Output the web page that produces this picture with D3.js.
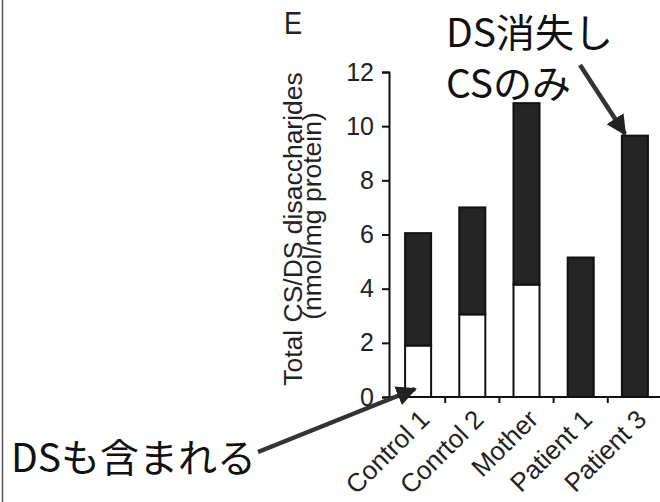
<!DOCTYPE html>
<html lang="ja">
<head>
<meta charset="UTF-8">
<title>Total CS/DS disaccharides</title>
<script src="https://d3js.org/d3.v7.min.js"></script>
<style>
    body { margin: 0; background: #fff; }
    svg { display: block; }
    .tick text { font-family: "Liberation Sans", Arial, sans-serif; }
</style>
</head>
<body>
<script>
    // data
    const categories = ["Control 1", "Conrtol 2", "Mother", "Patient 1", "Patient 3"];
    const dsValues = [1.9, 3.05, 4.15, 0, 0];      // white (lower) part
    const csValues = [4.15, 3.95, 6.7, 5.15, 9.65]; // dark (upper) part
    const yTicks = [0, 2, 4, 6, 8, 10, 12];
    const panelLabel = "E";
    const noteTop = ["DS消失し", "CSのみ"];
    const noteBottom = "DSも含まれる";

    let width = 660, height = 502;
    let sans = "Liberation Sans, Arial, sans-serif";

    let svg = d3.select("body").append("svg")
        .attr("width", width)
        .attr("height", height);

    let rows = categories.map((c, i) => ({ name: c, ds: dsValues[i], cs: csValues[i] }));
    let series = d3.stack().keys(["ds", "cs"])(rows);

    let x = d3.scaleBand().domain(categories).range([391, 662])
        .paddingInner(0.52).paddingOuter(0.26);
    let y = d3.scaleLinear().domain([0, 12]).range([397, 72]);

    let fill = { ds: "#fff", cs: "#252525" };

    // left border line of the scan
    svg.append("line")
        .attr("x1", 2.5).attr("x2", 2.5).attr("y1", 0).attr("y2", height)
        .attr("stroke", "#555").attr("stroke-width", 1.5);

    // bars
    svg.selectAll("g.layer")
        .data(series)
        .enter().append("g")
        .attr("class", "layer")
        .attr("fill", d => fill[d.key])
        .selectAll("rect")
        .data(d => d.filter(p => p[1] > p[0]))
        .enter().append("rect")
        .attr("x", d => x(d.data.name))
        .attr("y", d => y(d[1]))
        .attr("width", x.bandwidth())
        .attr("height", d => y(d[0]) - y(d[1]))
        .attr("stroke", "#111")
        .attr("stroke-width", 2);

    // y axis
    let yAxis = svg.append("g")
        .attr("transform", "translate(389,0)")
        .call(d3.axisLeft(y).tickValues(yTicks).tickSize(7).tickPadding(8));
    yAxis.select(".domain").attr("stroke", "#111").attr("stroke-width", 2);
    yAxis.selectAll(".tick line").attr("stroke", "#111").attr("stroke-width", 2);
    yAxis.selectAll(".tick text").attr("font-size", 25).attr("fill", "#222");

    // x axis: ticks sit between the bars
    let between = categories.slice(1).map(c => x(c) - x.step() * x.paddingInner() / 2);
    svg.append("line")
        .attr("x1", 388).attr("x2", width).attr("y1", y(0)).attr("y2", y(0))
        .attr("stroke", "#111").attr("stroke-width", 2);
    svg.selectAll("line.xtick")
        .data(between)
        .enter().append("line")
        .attr("class", "xtick")
        .attr("x1", d => d).attr("x2", d => d)
        .attr("y1", y(0)).attr("y2", y(0) + 6)
        .attr("stroke", "#111").attr("stroke-width", 2);

    svg.selectAll("text.xlab")
        .data(categories)
        .enter().append("text")
        .attr("class", "xlab")
        .attr("transform", d => "translate(" + (x(d) + x.bandwidth() / 2 + 13) + "," + (y(0) + 24) + ") rotate(-45)")
        .attr("text-anchor", "end")
        .attr("font-family", sans)
        .attr("font-size", 26)
        .attr("fill", "#222")
        .text(d => d);

    // y axis title, two lines
    svg.append("text")
        .attr("transform", "translate(302,229) rotate(-90) scale(1.06,1)")
        .attr("text-anchor", "middle")
        .attr("font-family", sans)
        .attr("font-size", 25)
        .attr("fill", "#222")
        .text("Total CS/DS disaccharides");
    svg.append("text")
        .attr("transform", "translate(321,216) rotate(-90) scale(1.06,1)")
        .attr("text-anchor", "middle")
        .attr("font-family", sans)
        .attr("font-size", 25)
        .attr("fill", "#222")
        .text("(nmol/mg protein)");

    // panel letter
    svg.append("text")
        .attr("transform", "translate(284,34) scale(0.85,1)")
        .attr("font-family", sans)
        .attr("font-size", 32)
        .attr("fill", "#222")
        .text(panelLabel);

    // annotations
    let jp = "'Noto Sans CJK JP', sans-serif";
    svg.selectAll("text.note")
        .data(noteTop)
        .enter().append("text")
        .attr("class", "note")
        .attr("x", 446)
        .attr("y", (d, i) => 47 + i * 51)
        .attr("font-family", jp)
        .attr("font-size", 39)
        .attr("fill", "#111")
        .text(d => d);
    svg.append("text")
        .attr("x", 11).attr("y", 472)
        .attr("font-family", jp)
        .attr("font-size", 39)
        .attr("fill", "#111")
        .text(noteBottom);

    // arrows
    svg.append("defs").append("marker")
        .attr("id", "head")
        .attr("viewBox", "0 0 10 10")
        .attr("refX", 9).attr("refY", 5)
        .attr("markerWidth", 4.5).attr("markerHeight", 4.5)
        .attr("orient", "auto")
        .append("path")
        .attr("d", "M0,0 L10,5 L0,10 Z")
        .attr("fill", "#222");

    let arrows = [
        { from: [580, 65], to: [625, 134] },
        { from: [258, 452], to: [415, 389] }
    ];
    svg.selectAll("line.arrow")
        .data(arrows)
        .enter().append("line")
        .attr("class", "arrow")
        .attr("x1", d => d.from[0]).attr("y1", d => d.from[1])
        .attr("x2", d => d.to[0]).attr("y2", d => d.to[1])
        .attr("stroke", "#333")
        .attr("stroke-width", 4.5)
        .attr("marker-end", "url(#head)");
</script>
</body>
</html>
